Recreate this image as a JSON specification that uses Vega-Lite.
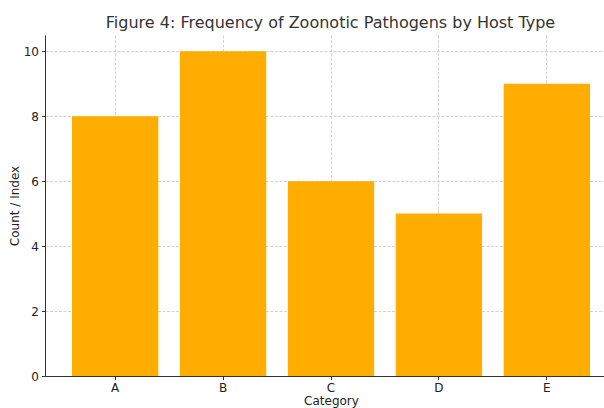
{
  "$schema": "https://vega.github.io/schema/vega-lite/v6.json",
  "autosize": {"type": "none"},
  "width": 559,
  "height": 341,
  "padding": {"left": 45, "top": 35, "right": 0, "bottom": 32},
  "background": "white",
  "title": {
    "text": "Figure 4: Frequency of Zoonotic Pathogens by Host Type",
    "font": "DejaVu Sans",
    "fontSize": 16,
    "fontWeight": "normal",
    "color": "#333333",
    "anchor": "middle",
    "dx": 6,
    "offset": 4
  },
  "config": {
    "view": {"stroke": null},
    "axis": {
      "labelFont": "DejaVu Sans",
      "titleFont": "DejaVu Sans",
      "labelFontSize": 12,
      "titleFontSize": 12,
      "titleFontWeight": "normal",
      "labelColor": "#222222",
      "titleColor": "#222222",
      "domainColor": "#333333",
      "tickColor": "#333333",
      "tickSize": 3.5,
      "gridColor": "#c8c8c8",
      "gridDash": [3, 1.5],
      "gridWidth": 0.8,
      "zindex": 1
    }
  },
  "data": {
    "values": [
      {"Category": "A", "Value": 8},
      {"Category": "B", "Value": 10},
      {"Category": "C", "Value": 6},
      {"Category": "D", "Value": 5},
      {"Category": "E", "Value": 9}
    ]
  },
  "mark": {"type": "bar", "color": "#ffae00"},
  "encoding": {
    "x": {
      "field": "Category",
      "type": "nominal",
      "scale": {"range": [0, 572], "paddingInner": 0.2, "paddingOuter": 0.25},
      "axis": {
        "labelAngle": 0,
        "grid": true,
        "bandPosition": 0.5,
        "title": "Category",
        "titleX": 286,
        "titleY": 19,
        "titleBaseline": "top",
        "labelPadding": 3
      }
    },
    "y": {
      "field": "Value",
      "type": "quantitative",
      "scale": {"domain": [0, 10.5], "nice": false},
      "axis": {
        "values": [0, 2, 4, 6, 8, 10],
        "grid": true,
        "title": "Count / Index",
        "titlePadding": 2,
        "labelPadding": 3
      }
    }
  }
}
